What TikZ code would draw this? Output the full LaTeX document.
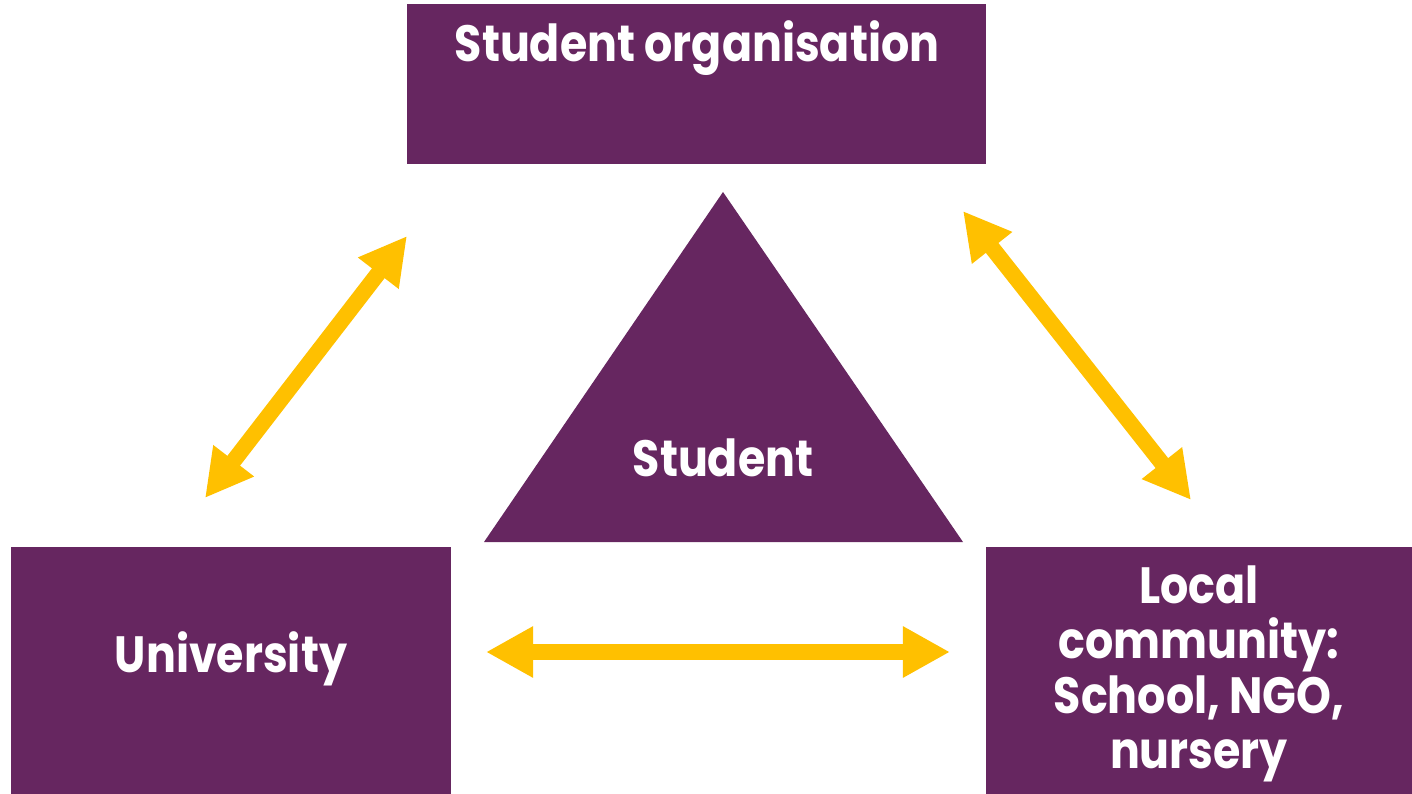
\documentclass[tikz,border=0pt]{standalone}
\usepackage{fontspec}
\setmainfont{Poppins}[FakeStretch=0.87]
\usetikzlibrary{arrows.meta}
\definecolor{plum}{RGB}{102,38,96}
\definecolor{amber}{RGB}{255,192,0}
\begin{document}
\begin{tikzpicture}[x=0.01cm,y=-0.01cm,
  box/.style={fill=plum,draw=none,inner sep=0pt},
  lbl/.style={text=white,font=\bfseries\fontsize{14.5}{15.6}\selectfont,align=center,inner sep=0pt},
  bigarrow/.style={draw=amber,line width=0.16cm,{Triangle[length=0.47cm,width=0.48cm]}-{Triangle[length=0.47cm,width=0.48cm]}}]
\useasboundingbox (0,0) rectangle (1412,794);
% boxes
\path[box] (407,4) rectangle (986,164);
\node[inner sep=0pt] (org) at (696.5,84) {};
\path[box] (11,547) rectangle (451,794);
\node[inner sep=0pt] (uni) at (231,670) {};
\path[box] (986,547) rectangle (1412,794);
\node[inner sep=0pt] (loc) at (1199,670) {};
\path[box] (723,192) -- (963,542) -- (484,542) -- cycle;
\node[inner sep=0pt] (stu) at (723,420) {};
% labels
\node[lbl] (orgt) at (697,48) {Student organisation};
\node[lbl] (unit) at (231,659) {University};
\node[lbl] (stut) at (723,458) {Student};
\node[lbl] (loct) at (1199,674) {Local\\community:\\School, NGO,\\nursery};
% arrow ends
\coordinate (l1) at (205,498);
\coordinate (l2) at (407,236);
\coordinate (r1) at (963,211);
\coordinate (r2) at (1191,500);
\coordinate (h1) at (486,652);
\coordinate (h2) at (950,652);
\draw[bigarrow] (l1) -- (l2);
\draw[bigarrow] (r1) -- (r2);
\draw[bigarrow] (h1) -- (h2);
\end{tikzpicture}
\end{document}
